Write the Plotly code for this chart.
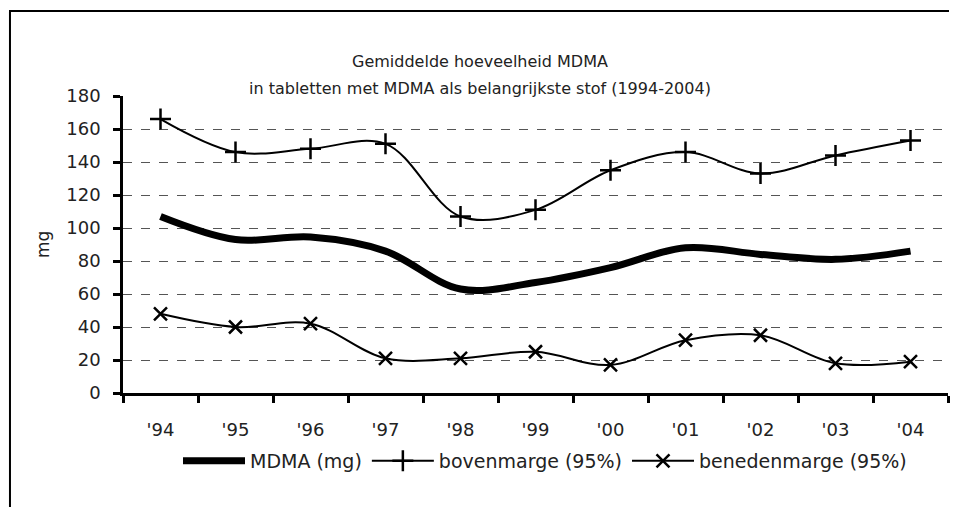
import plotly.graph_objects as go

# --- Data
YEARS = ["'94", "'95", "'96", "'97", "'98", "'99", "'00", "'01", "'02", "'03", "'04"]
MDMA_MG = [107, 93, 94.5, 86, 63, 67, 76, 88, 84, 81, 86]
BOVENMARGE = [166, 146, 148, 151, 107, 111, 135, 146, 133, 144, 153]
BENEDENMARGE = [48, 40, 42, 21, 21, 25, 17, 32, 35, 18, 19]
Y_TICKS = [0, 20, 40, 60, 80, 100, 120, 140, 160, 180]

FONT = "DejaVu Sans"

# the page keeps an 8px body margin, so the figure is sized to fit inside it
PL, PR, PT, PB = 123, 948, 96, 393  # plot area in screen pixels
W, H = 942, 500

fig = go.Figure()
fig.add_trace(go.Scatter(
    x=YEARS, y=MDMA_MG, mode="lines", name="MDMA (mg)",
    line=dict(color="black", width=7, shape="spline"),
))
fig.add_trace(go.Scatter(
    x=YEARS, y=BOVENMARGE, mode="lines+markers", name="bovenmarge (95%)",
    line=dict(color="black", width=2, shape="spline"),
    marker=dict(symbol="cross-thin", size=15, line=dict(color="black", width=2.5)),
))
fig.add_trace(go.Scatter(
    x=YEARS, y=BENEDENMARGE, mode="lines+markers", name="benedenmarge (95%)",
    line=dict(color="black", width=2, shape="spline"),
    marker=dict(symbol="x-thin", size=13, line=dict(color="black", width=2.5)),
))

px_x = lambda p: (p - PL) / (PR - PL)
px_y = lambda p: (PB - p) / (PB - PT)

# outer frame: open path, left edge then top edge
frame = "M{:.4f},{:.4f} L{:.4f},{:.4f} L{:.4f},{:.4f}".format(
    px_x(10), px_y(507), px_x(10), px_y(11), px_x(949), px_y(11))

fig.update_layout(
    width=W, height=H,
    margin=dict(l=PL - 8, r=W - (PR - 8), t=PT - 8, b=H - (PB - 8)),
    paper_bgcolor="white", plot_bgcolor="white",
    font=dict(family=FONT, size=16, color="#222"),
    showlegend=True,
    legend=dict(orientation="h", x=px_x(545), xanchor="center", y=px_y(461), yanchor="middle",
                font=dict(size=19, color="#222"), bgcolor="rgba(0,0,0,0)",
                itemwidth=62, tracegroupgap=0),
    annotations=[
        dict(text="Gemiddelde hoeveelheid MDMA", xref="paper", yref="paper",
             x=px_x(480), y=px_y(50), showarrow=False, font=dict(size=16)),
        dict(text="in tabletten met MDMA als belangrijkste stof (1994-2004)", xref="paper", yref="paper",
             x=px_x(480), y=px_y(77), showarrow=False, font=dict(size=16)),
        dict(text="mg", xref="paper", yref="paper", x=px_x(43), y=px_y(245),
             xanchor="center", yanchor="middle",
             textangle=-90, showarrow=False, font=dict(size=17)),
    ],
    shapes=[
        dict(type="path", xref="paper", yref="paper", path=frame,
             fillcolor="rgba(0,0,0,0)", line=dict(color="black", width=2)),
    ],
)
fig.update_xaxes(
    type="category", range=[-0.5, 10.5],
    showline=True, linecolor="black", linewidth=2.5,
    ticks="outside", tickson="boundaries", ticklen=7, tickwidth=2.5, tickcolor="black",
    ticklabelstandoff=19, tickfont=dict(size=18),
    showgrid=False, zeroline=False,
)
fig.update_yaxes(
    range=[0, 180], tickvals=Y_TICKS,
    showline=True, linecolor="black", linewidth=2.5,
    ticks="outside", ticklen=7, tickwidth=2.5, tickcolor="black",
    ticklabelstandoff=9, tickfont=dict(size=18),
    showgrid=True, gridcolor="#555", gridwidth=1, griddash="dash",
    zeroline=False,
)

fig.write_html("out.html")
